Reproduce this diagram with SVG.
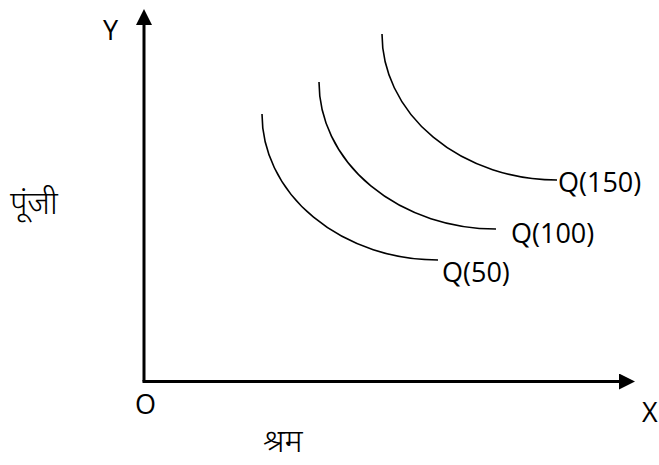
<svg xmlns="http://www.w3.org/2000/svg" width="659" height="465" viewBox="0 0 659 465">
<style>
.lbl{font-family:"Open Sans","Liberation Sans",sans-serif;font-size:27px;fill:#000}
.dev{font-family:"Noto Sans Devanagari","Noto Sans","Lohit Devanagari",sans-serif;font-size:32px;font-weight:300;fill:#000}
.axis{stroke:#000;stroke-width:3;fill:none}
.curve{stroke:#000;stroke-width:1.6;fill:none}
</style>
<defs>
<marker id="ah" viewBox="0 0 16 16" refX="0" refY="8" markerWidth="16" markerHeight="16" markerUnits="userSpaceOnUse" orient="auto">
<path d="M0,0 L16,8 L0,16 Z" fill="#000"/>
</marker>
</defs>
<g id="connectors">
<path class="axis" d="M144,381.5 L144,25" marker-end="url(#ah)"/>
<path class="axis" d="M142.5,381.5 L619,381.5" marker-end="url(#ah)"/>
</g>
<g id="curve-q50"><path class="curve" d="M262,114 A176,146 0 0 0 438,260"/></g>
<g id="curve-q100"><path class="curve" d="M319,82 A177,147 0 0 0 496,229"/></g>
<g id="curve-q150"><path class="curve" d="M382,34 A175,146 0 0 0 557,180"/></g>
<g id="label-y"><text class="lbl" x="103" y="40">Y</text></g>
<g id="label-o"><text class="lbl" x="135" y="414">O</text></g>
<g id="label-x"><text class="lbl" x="642" y="422">X</text></g>
<g id="label-q150"><text class="lbl" x="558" y="192">Q(150)</text></g>
<g id="label-q100"><text class="lbl" x="511" y="243">Q(100)</text></g>
<g id="label-q50"><text class="lbl" x="442" y="282">Q(50)</text></g>
<g id="label-capital"><text class="dev" x="10" y="214">पूंजी</text></g>
<g id="label-labour"><text class="dev" x="263" y="452">श्रम</text></g>
</svg>
